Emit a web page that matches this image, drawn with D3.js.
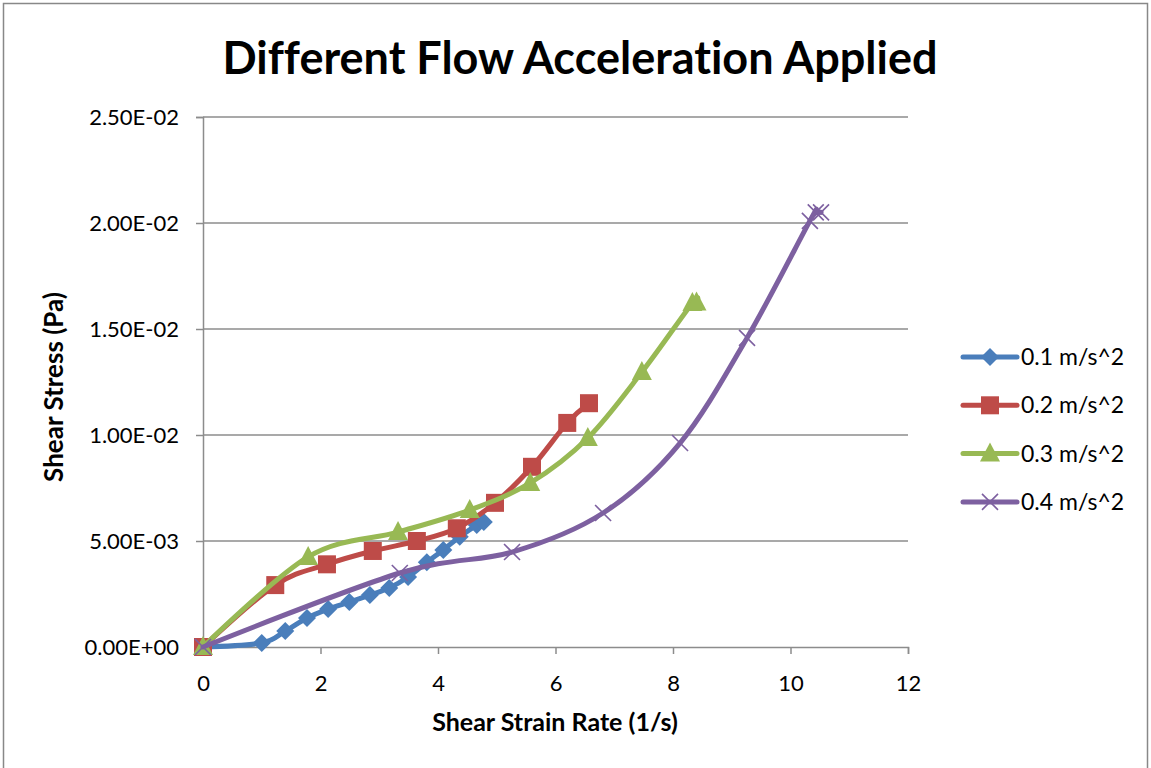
<!DOCTYPE html>
<html>
<head>
<meta charset="utf-8">
<script src="https://cdn.jsdelivr.net/npm/d3@7"></script>
<style>
  body { margin: 0; background: #fff; }
  svg { font-family: Lato, "Open Sans", sans-serif; font-variant-ligatures: none; }
</style>
</head>
<body>
<svg id="chart" width="1151" height="768"></svg>
<script>
const xTicks = [0, 2, 4, 6, 8, 10, 12];
const yTicks = [0, 0.005, 0.01, 0.015, 0.02, 0.025];

const series01 = [[0, 0], [1.0, 0.00019], [1.40, 0.00075], [1.77, 0.00137], [2.13, 0.00179], [2.49, 0.00212],
  [2.84, 0.00245], [3.17, 0.00278], [3.49, 0.0033], [3.81, 0.0040], [4.09, 0.00458], [4.37, 0.0052],
  [4.66, 0.00575], [4.78, 0.0059]];
const series02 = [[0, 0], [1.23, 0.00292], [2.11, 0.0039], [2.89, 0.00453], [3.64, 0.0050], [4.32, 0.0056],
  [4.97, 0.0068], [5.60, 0.0085], [6.20, 0.01057], [6.57, 0.0115]];
const series03 = [[0, 0], [1.79, 0.00425], [3.32, 0.00542], [4.54, 0.00646], [5.57, 0.00774], [6.55, 0.00986],
  [7.47, 0.01297], [8.33, 0.01623], [8.40, 0.01625]];
const series04 = [[0, 0], [3.35, 0.00349], [5.26, 0.00448], [6.81, 0.00632], [8.12, 0.00962], [9.26, 0.01458],
  [10.33, 0.0201], [10.43, 0.0205], [10.52, 0.0205]];

const seriesNames = ["0.1 m/s^2", "0.2 m/s^2", "0.3 m/s^2", "0.4 m/s^2"];
const seriesColors = ["#4a7ebb", "#be4b48", "#98b954", "#7d60a0"];
const seriesData = [series01, series02, series03, series04];
const seriesSymbols = ["diamond", "square", "triangle", "cross"];

const svg = d3.select("#chart");
const margin = {top: 117, right: 243, bottom: 121, left: 203};
const width = 1151 - margin.left - margin.right;
const height = 768 - margin.top - margin.bottom;

// outer chart border
svg.append("rect")
  .attr("x", 3.5).attr("y", 3.5).attr("width", 1144).attr("height", 800)
  .attr("fill", "none").attr("stroke", "#888").attr("stroke-width", 1.5);

svg.append("text")
  .attr("x", 580).attr("y", 74)
  .attr("text-anchor", "middle")
  .attr("font-size", 45).attr("font-weight", "bold")
  .text("Different Flow Acceleration Applied");

const g = svg.append("g").attr("transform", `translate(${margin.left},${margin.top})`);

const x = d3.scaleLinear().domain([0, 12]).range([0, width]);
const y = d3.scaleLinear().domain([0, 0.025]).range([height, 0]);

// gridlines
g.append("g").selectAll("line")
  .data(yTicks.slice(1))
  .join("line")
  .attr("x1", 0).attr("x2", width)
  .attr("y1", d => y(d)).attr("y2", d => y(d))
  .attr("stroke", "#8c8c8c").attr("stroke-width", 1.5);

const xAxis = g.append("g")
  .attr("transform", `translate(0,${height})`)
  .call(d3.axisBottom(x).tickValues(xTicks).tickSize(7).tickPadding(21).tickFormat(d3.format("d")));

const yAxis = g.append("g")
  .call(d3.axisLeft(y).tickValues(yTicks).tickSize(7).tickPadding(17)
    .tickFormat(d => d === 0 ? "0.00E+00" : d.toExponential(2).replace("e-", "E-0")));

[xAxis, yAxis].forEach(a => {
  a.select(".domain").attr("stroke", "#8c8c8c").attr("stroke-width", 1.5);
  a.selectAll(".tick line").attr("stroke", "#8c8c8c").attr("stroke-width", 1.5);
  a.selectAll(".tick text").attr("font-size", 22).attr("fill", "#000").attr("font-family", "Lato, sans-serif");
});
yAxis.selectAll(".tick text").attr("dy", "0.35em");

svg.append("text")
  .attr("x", 555).attr("y", 731)
  .attr("text-anchor", "middle")
  .attr("font-size", 25).attr("font-weight", "bold")
  .text("Shear Strain Rate (1/s)");

svg.append("text")
  .attr("transform", "translate(63,387) rotate(-90)")
  .attr("text-anchor", "middle")
  .attr("font-size", 26).attr("font-weight", "bold")
  .text("Shear Stress (Pa)");

const line = d3.line()
  .x(d => x(d[0]))
  .y(d => y(d[1]))
  .curve(d3.curveCardinal.tension(0));

function marker(sel, type, color) {
  if (type === "cross") {
    sel.append("path")
      .attr("d", "M-8,-8L8,8M-8,8L8,-8")
      .attr("stroke", color).attr("stroke-width", 1.6).attr("fill", "none");
  } else if (type === "diamond") {
    sel.append("path").attr("d", "M0,-9L9,0L0,9L-9,0Z").attr("fill", color);
  } else if (type === "square") {
    sel.append("rect").attr("x", -9).attr("y", -9).attr("width", 18).attr("height", 18).attr("fill", color);
  } else {
    sel.append("path").attr("d", "M0,-11L10,8L-10,8Z").attr("fill", color);
  }
}

seriesData.forEach((data, i) => {
  const sg = g.append("g");
  sg.append("path")
    .datum(data)
    .attr("fill", "none")
    .attr("stroke", seriesColors[i])
    .attr("stroke-width", 5)
    .attr("stroke-linejoin", "round")
    .attr("stroke-linecap", "round")
    .attr("d", line);
  sg.selectAll("g.pt")
    .data(data)
    .join("g")
    .attr("class", "pt")
    .attr("transform", d => `translate(${x(d[0])},${y(d[1])})`)
    .each(function() { marker(d3.select(this), seriesSymbols[i], seriesColors[i]); });
});

// legend
const legend = svg.append("g").attr("transform", "translate(963,357)");
seriesNames.forEach((name, i) => {
  const row = legend.append("g").attr("transform", `translate(0,${i * 48.3})`);
  row.append("line")
    .attr("x1", 0).attr("x2", 54)
    .attr("stroke", seriesColors[i]).attr("stroke-width", 5).attr("stroke-linecap", "round");
  const m = row.append("g").attr("transform", "translate(27,0)");
  marker(m, seriesSymbols[i], seriesColors[i]);
  row.append("text")
    .attr("x", 58).attr("dy", "0.35em")
    .attr("font-size", 23)
    .text(name);
});
</script>
</body>
</html>
